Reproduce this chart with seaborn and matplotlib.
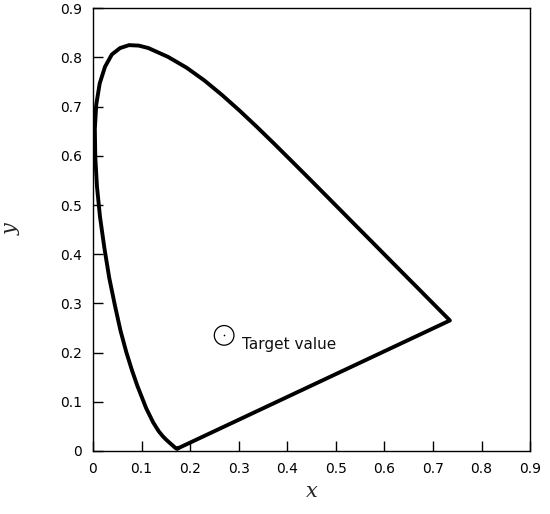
import matplotlib
matplotlib.use("Agg")
import matplotlib.pyplot as plt
import seaborn as sns
import pandas as pd

# Spectral locus (chromaticity x, y), closed with the purple line
locus_x = [0.1741, 0.1733, 0.1714, 0.1689, 0.1644, 0.1566, 0.1510, 0.1440, 0.1355,
           0.1241, 0.1096, 0.0913, 0.0800, 0.0687, 0.0566, 0.0454, 0.0335, 0.0235,
           0.0145, 0.0082, 0.0048, 0.0039, 0.0068, 0.0139, 0.0248, 0.0389, 0.0558,
           0.0743, 0.0943, 0.1142, 0.1547, 0.1929, 0.2296, 0.2658, 0.3016, 0.3373,
           0.3731, 0.4087, 0.4441, 0.4788, 0.5125, 0.5448, 0.5752, 0.6029, 0.6270,
           0.6482, 0.6658, 0.6801, 0.6915, 0.7006, 0.7079, 0.7140, 0.7190, 0.7230,
           0.7260, 0.7347, 0.1741]
locus_y = [0.0050, 0.0048, 0.0051, 0.0069, 0.0109, 0.0177, 0.0227, 0.0297, 0.0399,
           0.0578, 0.0868, 0.1327, 0.1650, 0.2007, 0.2450, 0.2950, 0.3520, 0.4127,
           0.4760, 0.5384, 0.5980, 0.6548, 0.7040, 0.7470, 0.7810, 0.8060, 0.8190,
           0.8250, 0.8240, 0.8190, 0.8010, 0.7790, 0.7530, 0.7235, 0.6920, 0.6589,
           0.6245, 0.5896, 0.5547, 0.5202, 0.4866, 0.4544, 0.4242, 0.3965, 0.3725,
           0.3514, 0.3340, 0.3197, 0.3083, 0.2993, 0.2920, 0.2859, 0.2809, 0.2770,
           0.2740, 0.2653, 0.0050]

target_x = [0.27]
target_y = [0.235]
target_label = "Target value"

ticks = [0, 0.1, 0.2, 0.3, 0.4, 0.5, 0.6, 0.7, 0.8, 0.9]
tick_labels = ["0", "0.1", "0.2", "0.3", "0.4", "0.5", "0.6", "0.7", "0.8", "0.9"]

sns.set_style("ticks")
plt.rcParams["font.family"] = ["DejaVu Sans"]

fig = plt.figure(figsize=(5.5, 5.14), dpi=100)
ax = fig.add_axes([0.169, 0.1226, 0.795, 0.8614])

df = pd.DataFrame({"x": locus_x, "y": locus_y})
sns.lineplot(data=df, x="x", y="y", sort=False, estimator=None, color="black",
             linewidth=2.8, ax=ax, solid_joinstyle="round", solid_capstyle="round")

tdf = pd.DataFrame({"x": target_x, "y": target_y})
sns.scatterplot(data=tdf, x="x", y="y", s=200, facecolor="none", edgecolor="black",
                linewidth=0.9, ax=ax)
sns.scatterplot(data=tdf, x="x", y="y", s=1.5, color="black", linewidth=0, ax=ax)
ax.text(target_x[0] + 0.036, target_y[0] - 0.018, target_label, fontsize=11,
        ha="left", va="center", color="#111111")

ax.set_xlim(0, 0.9)
ax.set_ylim(0, 0.9)
ax.set_xticks(ticks)
ax.set_xticklabels(tick_labels)
ax.set_yticks(ticks)
ax.set_yticklabels(tick_labels)
ax.tick_params(direction="in", length=7, width=1, labelsize=10, pad=8, colors="black")
for s in ax.spines.values():
    s.set_visible(True)
    s.set_linewidth(1)
    s.set_color("black")

ax.set_xlabel("x", fontsize=15, fontstyle="italic", family="DejaVu Serif", labelpad=4)
ax.set_ylabel("y", fontsize=15, fontstyle="italic", family="DejaVu Serif", labelpad=28,
              rotation=90)

fig.savefig("out.png", dpi=100)
